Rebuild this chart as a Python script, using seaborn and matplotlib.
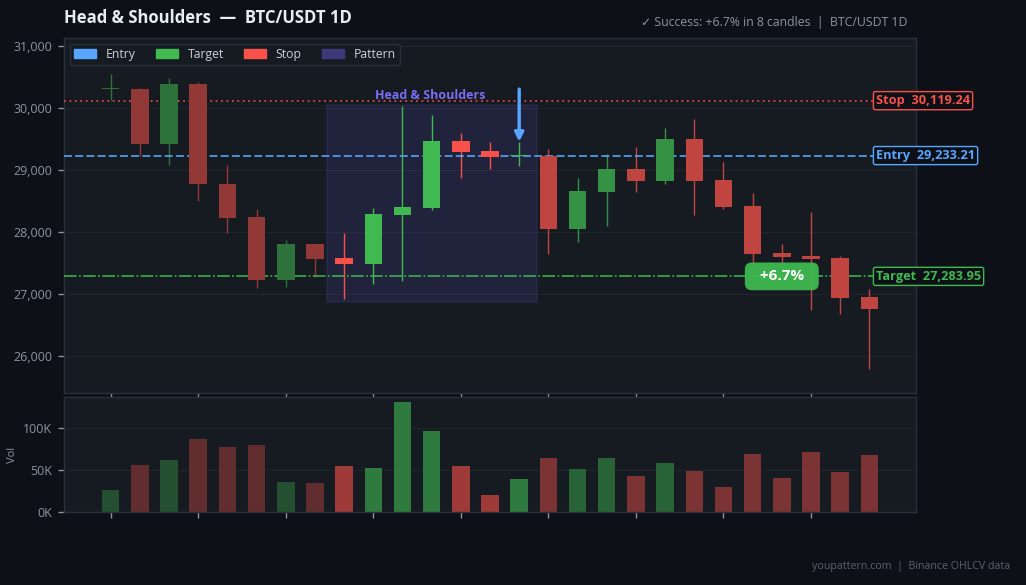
import numpy as np
import pandas as pd
import seaborn as sns
import matplotlib.pyplot as plt
from matplotlib.patches import Patch, Rectangle
from matplotlib.ticker import FuncFormatter

# OHLCV (27 daily candles)
opens = [30302, 30306, 29424, 30387, 28779, 28242, 27226, 27806, 27575, 27489,
         28274, 28392, 29468, 29306, 29226, 29221, 28048, 28650, 29016, 28827,
         29500, 28839, 28419, 27661, 27613, 27580, 26951]
highs = [30548, 30323, 30484, 30419, 29081, 28371, 27871, 27806, 27984, 28387,
         30032, 29887, 29597, 29452, 29457, 29339, 28871, 29258, 29371, 29677,
         29823, 29129, 28629, 27806, 28322, 27613, 27081]
lows = [30129, 29231, 29085, 28505, 27989, 27097, 27113, 27279, 26924, 27166,
        27214, 28360, 28876, 29021, 29064, 27650, 27839, 28102, 28650, 28779,
        28279, 28376, 27480, 27420, 26742, 26677, 25790]
closes = [30305, 29424, 30387, 28779, 28231, 27226, 27806, 27564, 27489, 28290,
          28403, 29468, 29295, 29215, 29233, 28048, 28661, 29016, 28827, 29500,
          28827, 28408, 27650, 27601, 27564, 26940, 26758]
volumes_k = [26, 56, 62, 87, 77, 79, 36, 35, 54, 52, 130, 96, 55, 20, 39,
             64, 51, 64, 43, 58, 49, 30, 69, 40, 71, 48, 68]

entry_price = 29233.21
target_price = 27283.95
stop_price = 30119.24
pattern_start, pattern_end = 8, 14
success_idx = 23

BG = "#0d1117"
PANEL = "#161b22"
GRID = "#21262d"
SPINE = "#2a3039"
MUTED = "#8b949e"
RED = "#f85149"
GREEN = "#3fb950"
BLUE = "#58a6ff"
PURPLE = "#6e62f0"

sns.set_style("dark")
plt.rcParams["font.family"] = ["Open Sans", "DejaVu Sans"]
plt.rcParams["axes.facecolor"] = PANEL
plt.rcParams["figure.facecolor"] = BG

df = pd.DataFrame({"open": opens, "high": highs, "low": lows,
                   "close": closes, "volume": np.array(volumes_k) * 1000})
df["idx"] = np.arange(len(df))
df["up"] = df["close"] >= df["open"]


def phase_alpha(i):
    if i < pattern_start:
        return 0.55
    if i <= pattern_end:
        return 1.0
    return 0.75


def blend(color, alpha, bg=PANEL):
    c = np.array(plt.matplotlib.colors.to_rgb(color))
    b = np.array(plt.matplotlib.colors.to_rgb(bg))
    return tuple(b + (c - b) * alpha)


fig = plt.figure(figsize=(10.26, 5.85), dpi=100)
ax = fig.add_axes([0.0624, 0.328, 0.8304, 0.607])
axv = fig.add_axes([0.0624, 0.1248, 0.8304, 0.1966])
xlim = (-1.6, 27.6)

# candles
w = 0.6
for _, r in df.iterrows():
    i = r["idx"]
    col = blend(GREEN if r["up"] else RED, phase_alpha(i))
    ax.vlines(i, r["low"], r["high"], color=col, lw=1, zorder=3)
    lo = min(r["open"], r["close"])
    h = max(abs(r["close"] - r["open"]), 14)
    ax.add_patch(Rectangle((i - w / 2, lo), w, h, facecolor=col,
                           edgecolor="none", zorder=4))

# pattern zone
p_lo = min(lows[pattern_start:pattern_end + 1]) - 48
p_hi = max(highs[pattern_start:pattern_end + 1]) + 16
ax.add_patch(Rectangle((pattern_start - 0.6, p_lo), pattern_end - pattern_start + 1.2,
                       p_hi - p_lo, facecolor=PURPLE, alpha=0.12,
                       edgecolor=PURPLE, lw=1.2, zorder=2))
ax.text((pattern_start + pattern_end) / 2 - 0.05, 30210, "Head & Shoulders",
        color="#7b6cf0", fontsize=9, fontweight="bold", ha="center",
        va="center", zorder=6)

# trade levels
ax.axhline(stop_price, color=RED, ls=(0, (1, 2)), lw=1.3, alpha=0.85, zorder=3)
ax.axhline(entry_price, color=BLUE, ls=(0, (4.4, 1.8)), lw=1.3, alpha=0.9, zorder=3)
ax.axhline(target_price, color=GREEN, ls=(0, (7, 1.3, 1, 1.3)), lw=1.3, alpha=0.85, zorder=3)

for price, name, col in [(stop_price, "Stop", RED), (entry_price, "Entry", BLUE),
                         (target_price, "Target", GREEN)]:
    ax.annotate(f"{name}  {price:,.2f}", xy=(0.953, price),
                xycoords=("axes fraction", "data"), color=col, fontsize=9.2,
                fontweight="bold", ha="left", va="center", annotation_clip=False,
                zorder=7,
                bbox=dict(boxstyle="round,pad=0.2,rounding_size=0.15",
                          facecolor=BG, edgecolor=col, lw=1))

# entry arrow
ax.annotate("", xy=(pattern_end, highs[pattern_end]), xytext=(pattern_end, 30306),
            arrowprops=dict(arrowstyle="-|>", color=BLUE, lw=2.4,
                            mutation_scale=13, shrinkA=0, shrinkB=0), zorder=6)

# success badge
ax.text(success_idx, target_price, "  +6.7%  ", color="white", fontsize=11,
        fontweight="bold", ha="center", va="center", zorder=8,
        bbox=dict(boxstyle="round,pad=0.45,rounding_size=0.45",
                  facecolor=GREEN, edgecolor="none", alpha=0.95))

ax.set_xlim(*xlim)
ax.set_ylim(25400, 31130)
ax.set_xticks(np.arange(0, 27, 3))
ax.set_xticklabels([])
ax.set_yticks(np.arange(26000, 31001, 1000))
ax.yaxis.set_major_formatter(FuncFormatter(lambda v, p: f"{v:,.0f}"))
ax.grid(axis="y", color=GRID, lw=0.8)
ax.grid(axis="x", visible=False)

legend_handles = [Patch(color=BLUE, label="Entry"), Patch(color=GREEN, label="Target"),
                  Patch(color=RED, label="Stop"), Patch(color="#3d3a7a", label="Pattern")]
leg = ax.legend(handles=legend_handles, loc="upper left", ncol=4, fontsize=8.8,
                frameon=True, facecolor=PANEL, edgecolor=SPINE, labelcolor="#c9d1d9",
                handlelength=1.85, handleheight=0.65, handletextpad=0.75,
                borderaxespad=0.45, borderpad=0.35, columnspacing=1.65, fancybox=True)
leg.get_frame().set_alpha(1)

# volume
sns.barplot(data=df, x="idx", y="volume", ax=axv, width=0.6, color=GREEN,
            saturation=1)
for p, (_, r) in zip(axv.patches, df.iterrows()):
    a = phase_alpha(r["idx"]) * 0.6
    p.set_facecolor(blend(GREEN if r["up"] else RED, a))
    p.set_edgecolor("none")
axv.set_xlim(*xlim)
axv.set_ylim(0, max(df["volume"]) * 1.05)
axv.set_xticks(np.arange(0, 27, 3))
axv.set_xticklabels([])
axv.set_yticks([0, 50000, 100000])
axv.yaxis.set_major_formatter(FuncFormatter(lambda v, p: f"{v / 1000:.0f}K"))
axv.set_xlabel("")
axv.set_ylabel("Vol", color=MUTED, fontsize=8, labelpad=4)
axv.grid(axis="y", color=GRID, lw=0.8)
axv.grid(axis="x", visible=False)

for a in (ax, axv):
    for s in a.spines.values():
        s.set_visible(True)
        s.set_color(SPINE)
        s.set_linewidth(1)
    a.tick_params(colors=MUTED, labelsize=9, length=4, width=1, pad=4.5,
                  direction="out", bottom=True, left=True)
    a.set_axisbelow(True)

fig.text(0.0624, 0.969, "Head & Shoulders  \u2014  BTC/USDT 1D", color="#e6edf3",
         fontsize=12, fontweight="bold", ha="left", va="center")
fig.text(0.884, 0.961, "\u2713 Success: +6.7% in 8 candles  |  BTC/USDT 1D",
         color=MUTED, fontsize=8.8, ha="right", va="center")
fig.text(0.985, 0.031, "youpattern.com  |  Binance OHLCV data", color="#5a626c",
         fontsize=7.7, ha="right", va="center")

fig.savefig("out.png", dpi=100, facecolor=BG)
